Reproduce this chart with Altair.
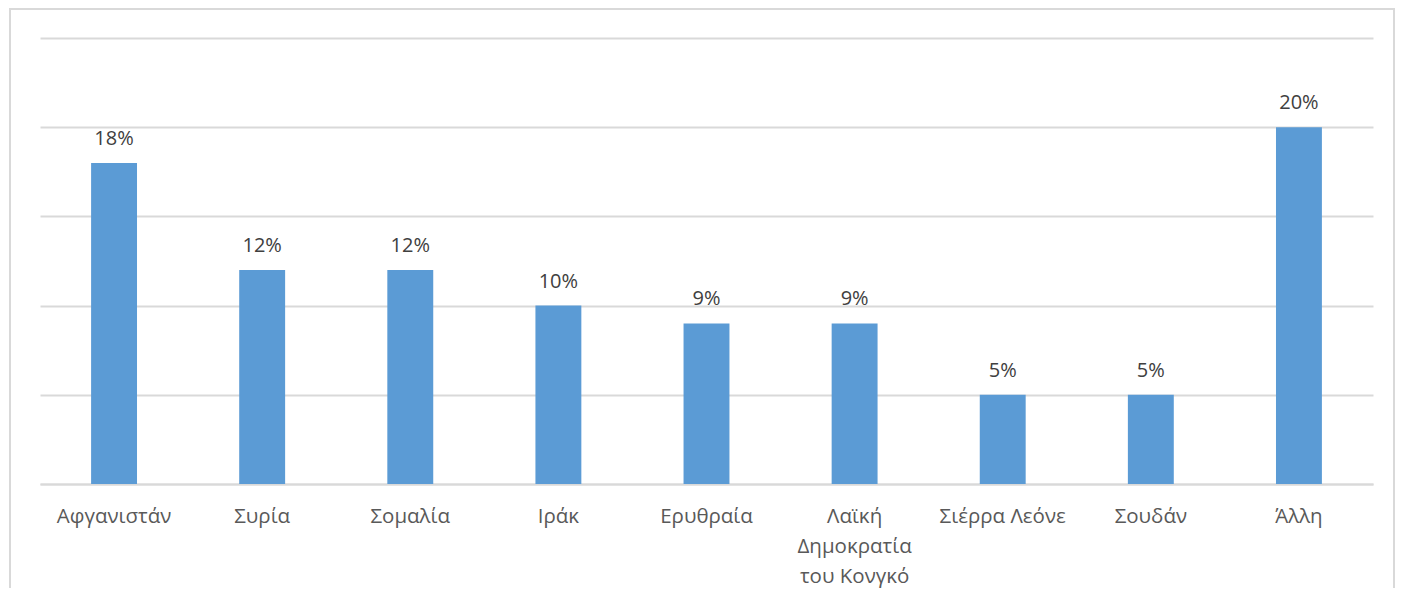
import altair as alt
import pandas as pd

countries = ["Αφγανιστάν", "Συρία", "Σομαλία", "Ιράκ", "Ερυθραία",
             "Λαϊκή Δημοκρατία του Κονγκό", "Σιέρρα Λεόνε", "Σουδάν", "Άλλη"]
shares = [18, 12, 12, 10, 9, 9, 5, 5, 20]

df = pd.DataFrame({"country": countries, "share": shares})
df["label"] = df["share"].astype(str) + "%"

W, H = 1333, 446
FONT = "Open Sans"

x_enc = alt.X(
    "country:N", sort=countries, title=None,
    scale=alt.Scale(paddingInner=0.69, paddingOuter=0.345),
    axis=alt.Axis(
        labelAngle=0, ticks=False, labelPadding=22,
        labelFont=FONT, labelFontSize=20.5, labelColor="#595959",
        labelLineHeight=30, labelLimit=300,
        domainColor="#d9d9d9", domainWidth=2,
        labelExpr="datum.label == 'Λαϊκή Δημοκρατία του Κονγκό' ? ['Λαϊκή', 'Δημοκρατία', 'του Κονγκό'] : datum.label",
    ),
)
y_enc = alt.Y(
    "share:Q", title=None,
    scale=alt.Scale(domain=[0, 25], nice=False),
    axis=alt.Axis(values=[0, 5, 10, 15, 20, 25], labels=False, ticks=False,
                  domain=False, grid=True, gridColor="#d9d9d9", gridWidth=2),
)

base = alt.Chart(df)
bars = base.mark_bar(color="#5b9bd5").encode(x=x_enc, y=y_enc)
texts = base.mark_text(dy=-24, baseline="middle", font=FONT, fontSize=20,
                       color="#404040").encode(x=x_enc, y=y_enc, text="label:N")

frame = alt.Chart(pd.DataFrame({"f": [0]})).mark_rect(
    fill=None, stroke="#d9d9d9", strokeWidth=2, clip=False
).encode(
    x=alt.value(-30), x2=alt.value(W + 21),
    y=alt.value(-29), y2=alt.value(H + 120),
)

chart = alt.layer(frame, bars, texts).properties(
    width=W, height=H,
    autosize=alt.AutoSizeParams(type="none"),
    padding={"left": 32, "top": 30, "right": 22, "bottom": 104},
    background="white",
).configure_view(stroke=None)

chart.save("out.html", embed_options={"renderer": "svg", "actions": False})
